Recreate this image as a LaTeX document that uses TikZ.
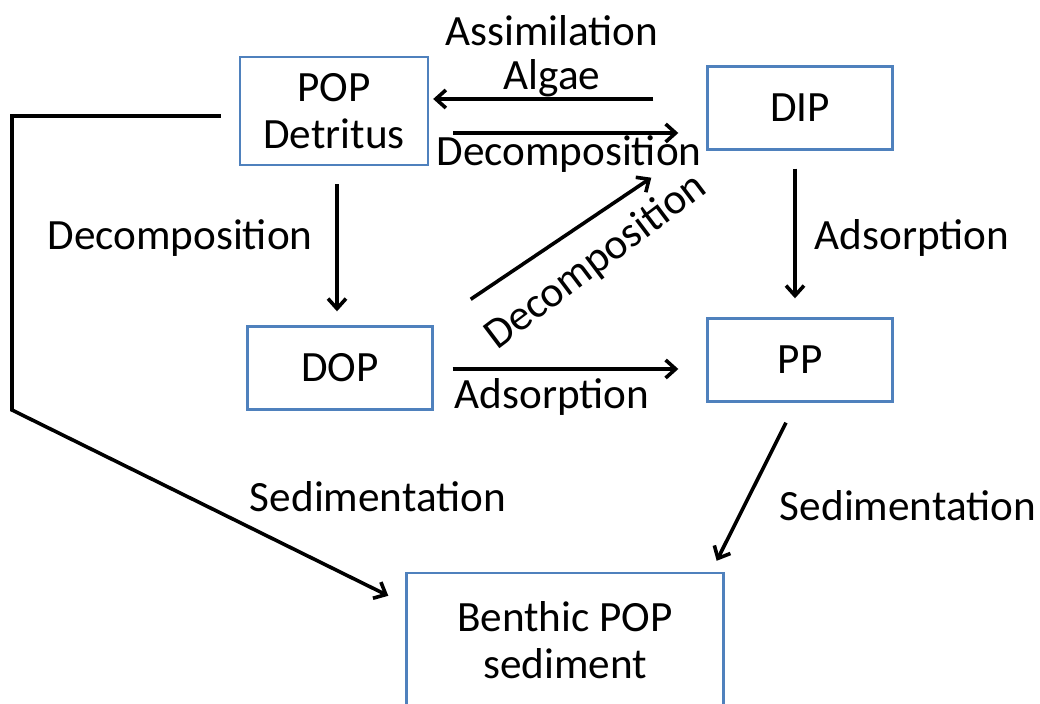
\documentclass[tikz,border=0pt]{standalone}
\usepackage{fontspec}
\setmainfont{Carlito}
\usetikzlibrary{arrows.meta,positioning,calc}
\definecolor{boxBlue}{RGB}{79,129,189}

\begin{document}
\begin{tikzpicture}[x=0.5pt, y=-0.5pt,
  pool/.style={draw=boxBlue, line width=1.2pt, fill=white, minimum width=92.5pt, minimum height=41.5pt, align=center, font=\fontsize{21.6}{23.5}\selectfont},
  arr/.style={-{Straight Barb[length=5pt,width=9pt]}, line width=1.8pt, black},
  lab/.style={font=\fontsize{21.6}{23.5}\selectfont, inner sep=0pt}
]
  \useasboundingbox (0,0) rectangle (1040,704);

  % pools (upper row)
  \node[pool, minimum width=94pt, minimum height=54pt] (pop) at (334,111) {POP\\Detritus};
  \node[pool] (dip) at (800,108) {DIP};

  % pools (middle row)
  \node[pool] (dop) at (340,368) {DOP};
  \node[pool] (pp)  at (800,360) {PP};

  % sediment (bottom)
  \node[pool, minimum width=158.5pt, minimum height=67pt] (ben) at (565,640) {Benthic POP\\sediment};

  \draw[arr] ($(dip.west)+(-53,-9)$) -- ($(pop.east)+(4,-12)$);
  \draw[arr] ($(pop.east)+(24,22)$) -- ($(dip.west)+(-28,25)$);
  \draw[arr] ($(pop.south)+(3,18)$) -- ($(dop.north)+(-3,-14)$);
  \draw[arr] ($(dop.north east)+(37,-26)$) -- ($(dip.south west)+(-55,27)$);
  \draw[arr] ($(dop.east)+(19,1)$) -- ($(pp.west)+(-28,9)$);
  \draw[arr] ($(dip.south)+(-5,18)$) -- ($(pp.north)+(-5,-19)$);
  \draw[arr] ($(pp.south)+(-14,20)$) -- ($(ben.north east)+(-8,-11)$);
  \draw[arr] ($(pop.west)+(-18,5)$) -- (12,116) -- (12,410) -- ($(ben.north west)+(-17,24)$);

  % labels
  \node[lab] (l1) at (552,31) {Assimilation};
  \node[lab] (l2) at (552,78) {Algae};
  \node[lab] (l3) at (569,154) {Decomposition};
  \node[lab] (l4) at (180,238) {Decomposition};
  \node[lab, rotate=37] (l5) at (596,262) {Decomposition};
  \node[lab] (l6) at (912,238) {Adsorption};
  \node[lab] (l7) at (552,397) {Adsorption};
  \node[lab] (l8) at (378,497) {Sedimentation};
  \node[lab] (l9) at (908,506) {Sedimentation};
\end{tikzpicture}
\end{document}
